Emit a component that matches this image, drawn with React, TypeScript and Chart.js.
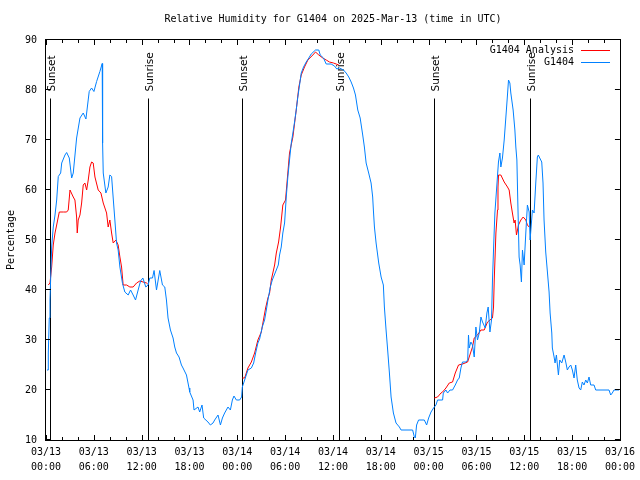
import React, { useEffect, useRef } from "react";
import { Chart, registerables } from "chart.js";

Chart.register(...registerables);

// Hours since 2025-03-13 00:00 UTC
const stationHours = [
  0.13, 0.29, 0.29, 0.41, 0.5, 0.59, 0.71, 0.91, 1.13, 1.34, 1.54, 1.84, 1.97, 2.38, 2.59, 2.92, 3.22, 3.42, 3.84, 4.26,
  4.67, 5.01, 5.42, 5.72, 6.01, 6.35, 6.76, 7.05, 7.1, 7.18, 7.51, 7.8, 8.01, 8.23, 8.43, 8.64, 8.85, 9.05, 9.27, 9.6,
  9.89, 10.31, 10.61, 10.93, 11.23, 11.56, 11.86, 12.15, 12.52, 12.81, 13.02, 13.36, 13.56, 13.86, 14.27, 14.61, 14.9, 15.11, 15.31, 15.61,
  15.94, 16.15, 16.37, 16.69, 16.99, 17.19, 17.62, 17.94, 18.03, 18.45, 18.57, 19.07, 19.28, 19.57, 19.78, 20.32, 20.62, 20.95, 21.16, 21.58,
  21.88, 22.13, 22.41, 22.83, 23.13, 23.38, 23.58, 23.88, 24.29, 24.54, 24.63, 24.92, 25.33, 25.76, 26.05, 26.3, 26.58, 26.8, 27.13, 27.42,
  27.64, 27.84, 28.14, 28.39, 28.89, 29.14, 29.3, 29.51, 29.71, 29.93, 30.14, 30.34, 30.55, 30.77, 30.97, 31.18, 31.39, 31.59, 31.81, 32.02,
  32.31, 32.64, 32.97, 33.27, 33.81, 34.22, 34.4, 34.81, 35.15, 35.77, 36.19, 36.48, 36.81, 37.32, 37.65, 37.98, 38.28, 38.57, 38.82, 39.11,
  39.41, 39.73, 39.94, 40.16, 40.48, 40.78, 40.98, 41.07, 41.2, 41.41, 41.74, 42.04, 42.32, 42.45, 42.66, 42.86, 43.08, 43.29, 43.58, 43.91,
  44.33, 44.54, 45.99, 46.21, 46.33, 46.49, 46.74, 47.46, 47.75, 48.0, 48.3, 48.62, 48.92, 49.12, 49.75, 49.84, 50.17, 50.38, 50.68, 51.0,
  51.34, 51.63, 51.84, 52.05, 52.25, 52.68, 52.9, 53.0, 53.09, 53.3, 53.5, 53.72, 53.93, 54.13, 54.35, 54.56, 54.76, 55.1, 55.31, 55.47,
  55.69, 55.89, 56.01, 56.14, 56.31, 56.56, 56.76, 56.94, 57.06, 57.26, 57.48, 57.69, 57.89, 58.02, 58.19, 58.31, 58.6, 58.82, 58.94, 59.07,
  59.19, 59.27, 59.35, 59.48, 59.64, 59.77, 59.98, 60.19, 60.39, 60.61, 60.73, 61.02, 61.23, 61.44, 61.64, 61.76, 61.94, 62.19, 62.35, 62.48,
  62.69, 62.9, 63.11, 63.24, 63.45, 63.52, 63.74, 63.86, 64.03, 64.28, 64.45, 64.7, 64.99, 65.2, 65.4, 65.61, 65.83, 66.03, 66.24, 66.45,
  66.65, 66.87, 67.08, 67.28, 67.49, 67.71, 67.91, 68.12, 68.33, 68.75, 68.96, 70.63, 70.84, 71.04, 71.25, 71.88,
];
const stationValues = [
  24, 24, 27.4, 34.4, 38, 42.6, 48.6, 52.6, 55, 58, 62.7, 63.4, 65.4, 67, 67.5, 66.4, 62.4, 63.4, 70.4, 74.4,
  75.4, 74.2, 79.7, 80.4, 79.7, 81.7, 83.7, 85.3, 69.4, 63.4, 59.4, 60.6, 63, 62.7, 58.4, 54, 49.4, 48, 44.6, 41.3,
  39.6, 39, 40, 39, 38, 40, 41.8, 42.4, 40.6, 41, 42.4, 42.4, 43.9, 40, 43.9, 41, 40.6, 38, 34.4, 32,
  30.4, 28.6, 27.4, 26.6, 25, 24.4, 23, 20.4, 19.6, 18, 16, 16.6, 15.6, 17, 14.4, 13.6, 13, 13.4, 14, 15,
  13, 14.4, 15.4, 16.6, 16, 18, 18.8, 18, 18, 18.6, 20.6, 22, 24, 24.4, 25.4, 27.4, 29.4, 30.2, 32.6, 34,
  36, 38, 40.6, 42, 44, 45, 47, 48.6, 51.4, 53.4, 58.6, 62.6, 66, 69.4, 71.4, 73.6, 76, 78.6, 81, 83.4,
  84.6, 85.6, 86.4, 87.2, 88, 88, 87, 86.4, 85.2, 85.2, 84.8, 84.2, 84.4, 84, 83.4, 82.6, 81.6, 80.4, 79, 76,
  74.4, 71, 68.6, 65.4, 63.4, 61.4, 58.6, 56, 52.6, 49.4, 45.4, 42.6, 41, 36.6, 32, 28, 23.4, 18.6, 15.4, 13.4,
  12.6, 12, 12, 10.6, 10.4, 13, 14, 14, 13, 14.4, 15.6, 16.4, 17, 18, 18, 19.4, 20, 19.4, 20, 20,
  21, 22, 22.4, 24.4, 25.6, 25.6, 26, 31, 28.4, 29.6, 29, 26.6, 32.6, 30, 31.4, 34.6, 33.6, 32.4, 35.4, 36.6,
  31.6, 34, 42, 48, 55.4, 61, 65.6, 67.4, 64.6, 66.4, 70, 74.6, 79, 82, 81.4, 79.4, 76, 72, 68.6, 66,
  57.4, 52, 46.6, 45, 41.6, 48, 45, 51.4, 57, 55.6, 50, 56, 55.4, 61.4, 66.6, 67, 66.4, 65.6, 61.4, 54,
  47.6, 43.6, 39.6, 35.4, 31.4, 28.4, 26.6, 25.4, 27, 23, 26, 25.4, 27, 25.6, 24, 24.6, 25, 24, 22.4, 25,
  22, 20.4, 20, 21.6, 21, 22, 21.4, 22.6, 21, 21, 20, 20, 19, 19.4, 20, 20,
];

// Analysis, one run per night
const analysisNight1Hours = [
  0.29, 0.5, 0.71, 0.91, 1.13, 1.34, 1.54, 1.67, 2.17, 2.59, 2.79, 3.01, 3.42, 3.63, 3.84, 3.92, 4.04, 4.26, 4.47, 4.67,
  4.88, 5.1, 5.3, 5.51, 5.72, 5.92, 6.14, 6.55, 6.89, 7.18, 7.6, 7.8, 8.01, 8.23, 8.43, 8.77, 9.05, 9.27, 9.48, 9.68,
  10.11, 10.52, 10.93, 11.36, 11.77, 12.18, 12.61, 12.77,
];
const analysisNight1Values = [
  41, 41.4, 44.6, 49, 51.4, 53, 54.6, 55.6, 55.6, 55.6, 56, 60, 58.6, 58, 54.6, 51.4, 54, 55, 57.4, 61,
  61.4, 60, 62, 64.6, 65.6, 65.4, 62.6, 60, 59.4, 57.4, 55.4, 52.6, 54, 51.4, 49.4, 50, 49, 46.6, 44.6, 41,
  41, 40.6, 40.6, 41.4, 41.8, 41.6, 41.4, 41.2,
];
const analysisNight2Hours = [
  24.63, 24.92, 25.33, 25.76, 26.17, 26.58, 27.01, 27.21, 27.55, 27.84, 28.05, 28.26, 28.68, 28.89, 29.18, 29.43, 29.71, 30.05, 30.55, 30.97,
  31.39, 31.72, 32.02, 32.43, 32.85, 33.47, 33.81, 34.22, 34.72, 35.15, 35.56, 36.06, 36.4, 36.73,
];
const analysisNight2Values = [
  22.4, 22.4, 24.4, 25.6, 27.4, 30, 31.6, 33.4, 36.4, 38.4, 39.4, 42, 45, 47.4, 49.6, 52.6, 57, 58, 67.4, 70.6,
  76, 80.6, 83, 84.6, 86, 87, 87.6, 87, 86.4, 86, 85.6, 85.4, 85.2, 85,
];
const analysisNight3Hours = [
  48.71, 49.12, 49.55, 49.75, 50.17, 50.59, 51.0, 51.34, 51.75, 52.25, 52.89, 53.09, 53.5, 53.72, 54.13, 54.56, 54.97, 55.39, 56.01, 56.14,
  56.23, 56.44, 56.64, 56.7, 56.77, 57.06, 57.48, 57.89, 58.1, 58.31, 58.51, 58.72, 58.85, 59.02, 59.27, 59.57, 59.86, 60.19, 60.39, 60.61,
];
const analysisNight3Values = [
  18.4, 18.6, 19.4, 19.6, 20.4, 21.4, 21.6, 23.4, 25, 25.2, 25.6, 26.6, 28.6, 30.4, 31, 32, 32, 33.6, 34.4, 36.6,
  42, 51.4, 56, 60.6, 63, 63, 61.6, 60.6, 60, 57.4, 55.4, 53.4, 54, 51, 53, 54, 54.6, 54, 53, 52.6,
];

const sunEventLabels = ["Sunset", "Sunrise", "Sunset", "Sunrise", "Sunset", "Sunrise"];
const sunEventHours = [0.55, 12.8, 24.63, 36.73, 48.62, 60.77];

const monthLabel = "03";
const startDay = 13;
const titleText = "Relative Humidity for G1404 on 2025-Mar-13 (time in UTC)";
const yAxisTitle = "Percentage";
const legendLabels = ["G1404 Analysis", "G1404"];

const RED = "rgb(255,0,0)";
const BLUE = "rgb(0,128,255)";
const MONO = "DejaVu Sans Mono";

const toPoints = (xs: number[], ys: number[]) => xs.map((x, i) => ({ x, y: ys[i] }));

const overlayPlugin = {
  id: "overlay",
  beforeDatasetsDraw(chart: any) {
    const { ctx, chartArea, scales } = chart;
    const xs = scales.x;
    const ys = scales.y;
    ctx.save();
    ctx.strokeStyle = "#000";
    ctx.lineWidth = 1;
    ctx.fillStyle = "#000";
    ctx.font = "10.5px 'DejaVu Sans'";
    const lineTop = ys.getPixelForValue(78.3);
    sunEventHours.forEach((h, i) => {
      const px = Math.round(xs.getPixelForValue(h)) + 0.5;
      ctx.beginPath();
      ctx.moveTo(px, lineTop);
      ctx.lineTo(px, chartArea.bottom);
      ctx.stroke();
      ctx.save();
      ctx.translate(px + 4.5, lineTop - 7);
      ctx.rotate(-Math.PI / 2);
      ctx.textAlign = "left";
      ctx.textBaseline = "alphabetic";
      ctx.fillText(sunEventLabels[i], 0, 0);
      ctx.restore();
    });
    ctx.restore();
  },
  afterDraw(chart: any) {
    const { ctx, chartArea, scales } = chart;
    const { left, right, top, bottom } = chartArea;
    const xs = scales.x;
    const ys = scales.y;
    ctx.save();
    ctx.strokeStyle = "#000";
    ctx.lineWidth = 1;
    // frame
    ctx.strokeRect(Math.round(left) - 0.5, Math.round(top) - 0.5, Math.round(right - left) + 1, Math.round(bottom - top) + 1);
    // x ticks (inward, top and bottom)
    ctx.beginPath();
    for (let h = 0; h <= 72; h += 2) {
      const px = Math.round(xs.getPixelForValue(h)) + 0.5;
      const len = h % 6 === 0 ? 5 : 3;
      ctx.moveTo(px, bottom);
      ctx.lineTo(px, bottom - len);
      ctx.moveTo(px, top);
      ctx.lineTo(px, top + len);
    }
    // y ticks (inward, left and right)
    for (let v = 10; v <= 90; v += 10) {
      const py = Math.round(ys.getPixelForValue(v)) - 0.5;
      ctx.moveTo(left, py);
      ctx.lineTo(left + 5, py);
      ctx.moveTo(right, py);
      ctx.lineTo(right - 5, py);
    }
    ctx.stroke();

    // title
    ctx.fillStyle = "#000";
    ctx.font = `10px '${MONO}'`;
    ctx.textAlign = "center";
    ctx.textBaseline = "middle";
    ctx.fillText(titleText, (left + right) / 2, 19);

    // y axis title
    ctx.save();
    ctx.translate(11, (top + bottom) / 2);
    ctx.rotate(-Math.PI / 2);
    ctx.textAlign = "center";
    ctx.textBaseline = "middle";
    ctx.fillText(yAxisTitle, 0, 0);
    ctx.restore();

    // legend
    const colors = [RED, BLUE];
    legendLabels.forEach((label, i) => {
      const y = 50 + i * 12;
      ctx.fillStyle = "#000";
      ctx.textAlign = "right";
      ctx.textBaseline = "middle";
      ctx.fillText(label, 574, y);
      ctx.strokeStyle = colors[i];
      ctx.beginPath();
      ctx.moveTo(581, y + 0.5);
      ctx.lineTo(610, y + 0.5);
      ctx.stroke();
    });
    ctx.restore();
  },
};

export default function App() {
  const canvasRef = useRef<HTMLCanvasElement | null>(null);

  useEffect(() => {
    document.body.style.margin = "0";
    const canvas = canvasRef.current;
    if (!canvas) return;
    const lineDs = (data: any[], color: string) => ({
      data,
      borderColor: color,
      backgroundColor: color,
      borderWidth: 1,
      pointRadius: 0,
      tension: 0,
      fill: false,
    });
    const chart = new Chart(canvas, {
      type: "line",
      data: {
        datasets: [
          { label: legendLabels[1], ...lineDs(toPoints(stationHours, stationValues), BLUE) },
          { label: legendLabels[0], ...lineDs(toPoints(analysisNight1Hours, analysisNight1Values), RED) },
          { label: legendLabels[0], ...lineDs(toPoints(analysisNight2Hours, analysisNight2Values), RED) },
          { label: legendLabels[0], ...lineDs(toPoints(analysisNight3Hours, analysisNight3Values), RED) },
        ],
      },
      options: {
        animation: false,
        responsive: false,
        devicePixelRatio: 1,
        layout: { padding: { top: 40, right: 19, left: 0, bottom: 0 } },
        plugins: {
          legend: { display: false },
          title: { display: false },
          tooltip: { enabled: false },
        },
        scales: {
          x: {
            type: "linear",
            min: 0,
            max: 72,
            grid: { display: false, drawTicks: false },
            border: { display: false },
            afterFit: (s: any) => {
              s.height = 40;
            },
            ticks: {
              stepSize: 6,
              autoSkip: false,
              maxRotation: 0,
              minRotation: 0,
              padding: 5,
              color: "#000",
              font: { family: MONO, size: 10, lineHeight: 1.5 },
              callback: (v: any) => {
                const n = Number(v);
                const day = startDay + Math.floor(n / 24);
                const hh = n % 24;
                return [`${monthLabel}/${String(day).padStart(2, "0")}`, `${String(hh).padStart(2, "0")}:00`];
              },
            },
          },
          y: {
            type: "linear",
            min: 10,
            max: 90,
            grid: { display: false, drawTicks: false },
            border: { display: false },
            afterFit: (s: any) => {
              s.width = 46;
            },
            ticks: {
              stepSize: 10,
              padding: 9,
              color: "#000",
              font: { family: MONO, size: 10 },
            },
          },
        },
      },
      plugins: [overlayPlugin],
    });
    return () => chart.destroy();
  }, []);

  return (
    <div style={{ width: 640, height: 480, background: "#fff" }}>
      <canvas ref={canvasRef} width={640} height={480} style={{ display: "block" }} />
    </div>
  );
}
